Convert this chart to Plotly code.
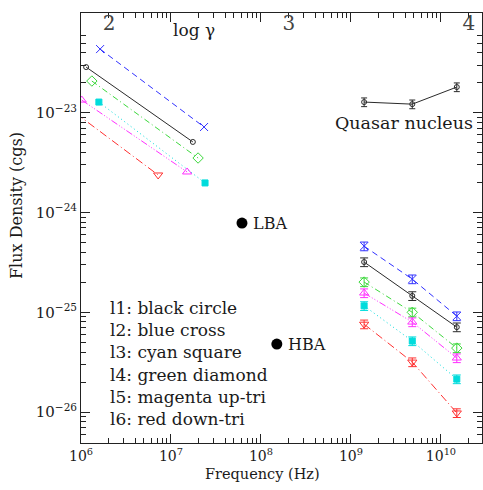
import math
import plotly.graph_objects as go

# ---------------- data ----------------
labels = ["l1: black circle", "l2: blue cross", "l3: cyan square",
          "l4: green diamond", "l5: magenta up-tri", "l6: red down-tri"]
colors = ["#2a2a2a", "#3030ff", "#00dcdc", "#3cd83c", "#ff30ff", "#ff3030"]
symbols = ["circle-open", "x-thin-open", "square", "diamond-open",
           "triangle-up-open", "triangle-down-open"]
marker_sizes = [5, 8, 6, 8, 8, 8]
dashes = ["solid", "6px,4px", "1px,3px", "6px,3px,1px,3px",
          "7px,2px,1px,2px,1px,2px,1px,2px", "8px,3px,1px,3px"]

# low-frequency (top-left) segments
low_nu = [[1.14e6, 1.75e7], [1.63e6, 2.33e7], [1.58e6, 2.39e7],
          [1.32e6, 2.0e7], [1.02e6, 1.51e7], [0.88e6, 7.2e6]]
low_flux = [[2.87e-23, 5.1e-24], [4.35e-23, 7.2e-24], [1.28e-23, 1.98e-24],
            [2.08e-23, 3.52e-24], [1.34e-23, 2.55e-24], [9.84e-24, 2.38e-24]]

# high-frequency (bottom-right) points
high_nu = [1.4e9, 4.8e9, 1.5e10]
high_flux = [[3.19e-25, 1.46e-25, 7.1e-26],
             [4.6e-25, 2.15e-25, 9.16e-26],
             [1.16e-25, 5.15e-26, 2.14e-26],
             [2.01e-25, 1.0e-25, 4.38e-26],
             [1.56e-25, 7.98e-26, 3.48e-26],
             [7.6e-26, 3.17e-26, 9.8e-27]]
high_err_pct = 10

quasar_nu = [1.4e9, 4.8e9, 1.5e10]
quasar_flux = [1.28e-23, 1.22e-23, 1.81e-23]
quasar_err_pct = 10

lba = (6.15e7, 7.85e-25)
hba = (1.5e8, 4.8e-26)

x_decades = [6, 7, 8, 9, 10]
y_decades = [-26, -25, -24, -23, -22]
gamma_ticks = [2, 3, 4]

FONT = "DejaVu Serif"
TXT = "#1a1a1a"

fig = go.Figure()

for i in range(6):
    mk = dict(symbol=symbols[i], size=marker_sizes[i], color=colors[i],
              line=dict(color=colors[i], width=1))
    fig.add_trace(go.Scatter(x=low_nu[i], y=low_flux[i], mode="lines+markers",
                             line=dict(color=colors[i], width=1, dash=dashes[i]),
                             marker=mk, showlegend=False))
    fig.add_trace(go.Scatter(x=high_nu, y=high_flux[i], mode="lines+markers",
                             line=dict(color=colors[i], width=1, dash=dashes[i]),
                             marker=mk, showlegend=False,
                             error_y=dict(type="percent", value=high_err_pct,
                                          color=colors[i], thickness=1, width=4)))

fig.add_trace(go.Scatter(x=quasar_nu, y=quasar_flux, mode="lines+markers",
                         line=dict(color="#2a2a2a", width=1),
                         marker=dict(symbol="circle-open", size=5, color="#2a2a2a",
                                     line=dict(width=1)),
                         error_y=dict(type="percent", value=quasar_err_pct,
                                      color="#2a2a2a", thickness=1, width=3),
                         showlegend=False))

fig.add_trace(go.Scatter(x=[lba[0], hba[0]], y=[lba[1], hba[1]], mode="markers",
                         marker=dict(symbol="circle", size=11, color="black"),
                         showlegend=False))

# invisible trace for top (log gamma) axis
fig.add_trace(go.Scatter(x=[2, 3], y=[1e-24, 1e-24], xaxis="x2", mode="markers",
                         marker=dict(opacity=0), showlegend=False, hoverinfo="skip"))

minor_x = [m * 10 ** d for d in range(6, 11) for m in range(2, 10)]
minor_y = [m * 10.0 ** d for d in range(-27, -22) for m in range(2, 10)]

xr = [6, 10.456]
fig.update_layout(
    width=483, height=490,
    margin=dict(l=81, r=1, t=13, b=47),
    paper_bgcolor="white", plot_bgcolor="white",
    font=dict(family=FONT, color=TXT, size=13),
    xaxis=dict(type="log", range=xr, showgrid=False, zeroline=False,
               showline=True, linecolor="#222", linewidth=1, mirror="ticks",
               ticks="inside", ticklen=9, tickcolor="#222",
               tickvals=[10 ** d for d in x_decades],
               ticktext=[f"10<sup>{d}</sup>" for d in x_decades],
               tickfont=dict(size=14),
               minor=dict(ticks="inside", ticklen=5, tickcolor="#222",
                          tickvals=minor_x)),
    yaxis=dict(type="log", range=[-26.31, -22], showgrid=False, zeroline=False,
               showline=True, linecolor="#222", linewidth=1, mirror="ticks",
               ticks="inside", ticklen=9, tickcolor="#222",
               tickvals=[10.0 ** d for d in y_decades],
               ticktext=[f"10<sup>\u2212{abs(d)}</sup>" for d in y_decades],
               tickfont=dict(size=15),
               minor=dict(ticks="inside", ticklen=5, tickcolor="#222",
                          tickvals=minor_y)),
    xaxis2=dict(overlaying="x", side="top", anchor="y",
                range=[(xr[0] - 2.311) / 2, (xr[1] - 2.311) / 2],
                showgrid=False, zeroline=False, showline=False, ticks="",
                tickvals=gamma_ticks, ticktext=[str(g) for g in gamma_ticks],
                ticklabelposition="inside", tickfont=dict(size=20)),
)


def px(xp, yp):
    return ((xp - 81) / 401, (443 - yp) / 430)


a = []
x0, y0 = px(194, 30)
a.append(dict(x=x0, y=y0, text="log γ", font=dict(size=17)))
x0, y0 = px(16, 206)
a.append(dict(x=x0, y=y0, text="Flux Density (cgs)", textangle=-90, font=dict(size=16)))
x0, y0 = px(262, 474)
a.append(dict(x=x0, y=y0, text="Frequency (Hz)", font=dict(size=14.5)))
# legend-like text block, in three groups
legend_groups = [([0], 308), ([1, 2], 340.5), ([3, 4, 5], 396.5)]
for idx, yp in legend_groups:
    x0, y0 = px(108, yp)
    a.append(dict(x=x0, y=y0, text="<br>".join(labels[k] for k in idx),
                  xanchor="left", align="left", font=dict(size=17)))
for d in a:
    d.setdefault("xanchor", "center")
    d.update(xref="paper", yref="paper", yanchor="middle", showarrow=False)

a.append(dict(x=math.log10(lba[0]), y=math.log10(lba[1]), xref="x", yref="y",
              text="LBA", xanchor="left", yanchor="middle", xshift=9,
              showarrow=False, font=dict(size=16)))
a.append(dict(x=math.log10(hba[0]), y=math.log10(hba[1]), xref="x", yref="y",
              text="HBA", xanchor="left", yanchor="middle", xshift=9,
              showarrow=False, font=dict(size=16)))
a.append(dict(x=9.588, y=-23.103, xref="x", yref="y", text="Quasar nucleus",
              xanchor="center", yanchor="middle", showarrow=False,
              font=dict(size=17.5)))

fig.update_layout(annotations=a)
fig.write_html("out.html")
